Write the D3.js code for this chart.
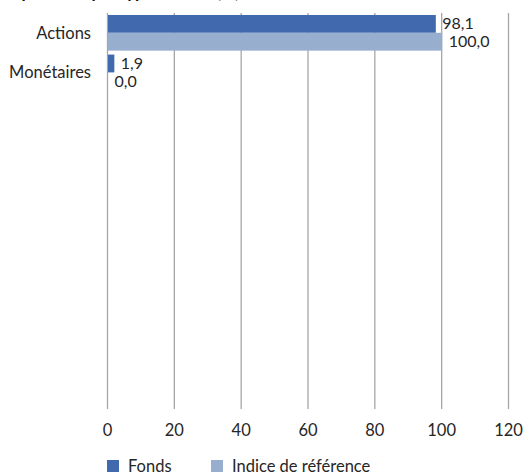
<!DOCTYPE html>
<html>
<head>
<meta charset="utf-8">
<script src="https://cdn.jsdelivr.net/npm/d3@7"></script>
<style>
  body {margin:0; background:#fff;}
  svg {display:block;}
  svg text {font-family:Lato, "Open Sans", sans-serif; fill:#262626; font-size:16.5px;}
</style>
</head>
<body>
<svg id=chart></svg>
<script>
// data
var categories=["Actions","Monétaires"];
var series_names=["Fonds","Indice de référence"];
var fonds=[98.1,1.9];
var indice=[100.0,0.0];
var x_ticks=[0,20,40,60,80,100,120];
var colors=["#4169ae","#97aecf"];
var n_slots=10; // empty category slots below the two used ones

var W=527, H=475;
var svg=d3.select('#chart').attr('width',W).attr('height',H);

var x=d3.scaleLinear().domain([0,120]).range([107.5,508.5]);
var y=d3.scaleBand().domain(d3.range(n_slots)).range([13,409]).paddingInner(0.1).paddingOuter(0.05);
var ysub=d3.scaleBand().domain([0,1]).range([0,y.bandwidth()]);

// title (cut off at top in the original)
svg.append('text')
  .attr('x',2).attr('y',-2)
  .style('font-weight','bold').style('font-size','17px').style('fill','#111')
  .text("Répartition par type d'actifs (%)");

// grid
var gg=svg.append('g');
gg.selectAll('line.grid').data(x_ticks).enter().append('line')
  .attr('x1',function(d){return x(d);}).attr('x2',function(d){return x(d);})
  .attr('y1',13).attr('y2',409)
  .attr('stroke','#a6a6a6').attr('stroke-width',1.3);

// tick labels
gg.selectAll('text.tick').data(x_ticks).enter().append('text')
  .attr('x',function(d){return x(d);}).attr('y',436)
  .attr('text-anchor','middle')
  .text(function(d){return d;});

// bars
var series=[fonds,indice];
series.forEach(function(vals,s) {
  var g=svg.append('g');
  g.selectAll('rect').data(vals).enter().append('rect')
    .attr('x',x(0)+0.5)
    .attr('y',function(d,i){return y(i)+ysub(s);})
    .attr('width',function(d){return Math.max(0,x(d)-x(0));})
    .attr('height',ysub.bandwidth())
    .attr('fill',colors[s]);
  g.selectAll('text').data(vals).enter().append('text')
    .attr('x',function(d){return x(d)+7;})
    .attr('y',function(d,i){return y(i)+ysub(s)+ysub.bandwidth()/2;})
    .attr('dy','0.35em').style('font-size','16px')
    .text(function(d){return d3.format('.1f')(d).replace('.',',');});
});

// category labels
svg.selectAll('text.cat').data(categories).enter().append('text')
  .attr('x',91).attr('y',function(d,i){return y(i)+y.bandwidth()/2;})
  .attr('dy','0.35em').attr('text-anchor','end')
  .text(function(d){return d;});

// legend
var leg_x=[107,211];
series_names.forEach(function(name,s) {
  svg.append('rect').attr('x',leg_x[s]).attr('y',460).attr('width',12).attr('height',12).attr('fill',colors[s]);
  svg.append('text').attr('x',leg_x[s]+21).attr('y',466).attr('dy','0.35em')
    .text(name);
});
</script>
</body>
</html>
